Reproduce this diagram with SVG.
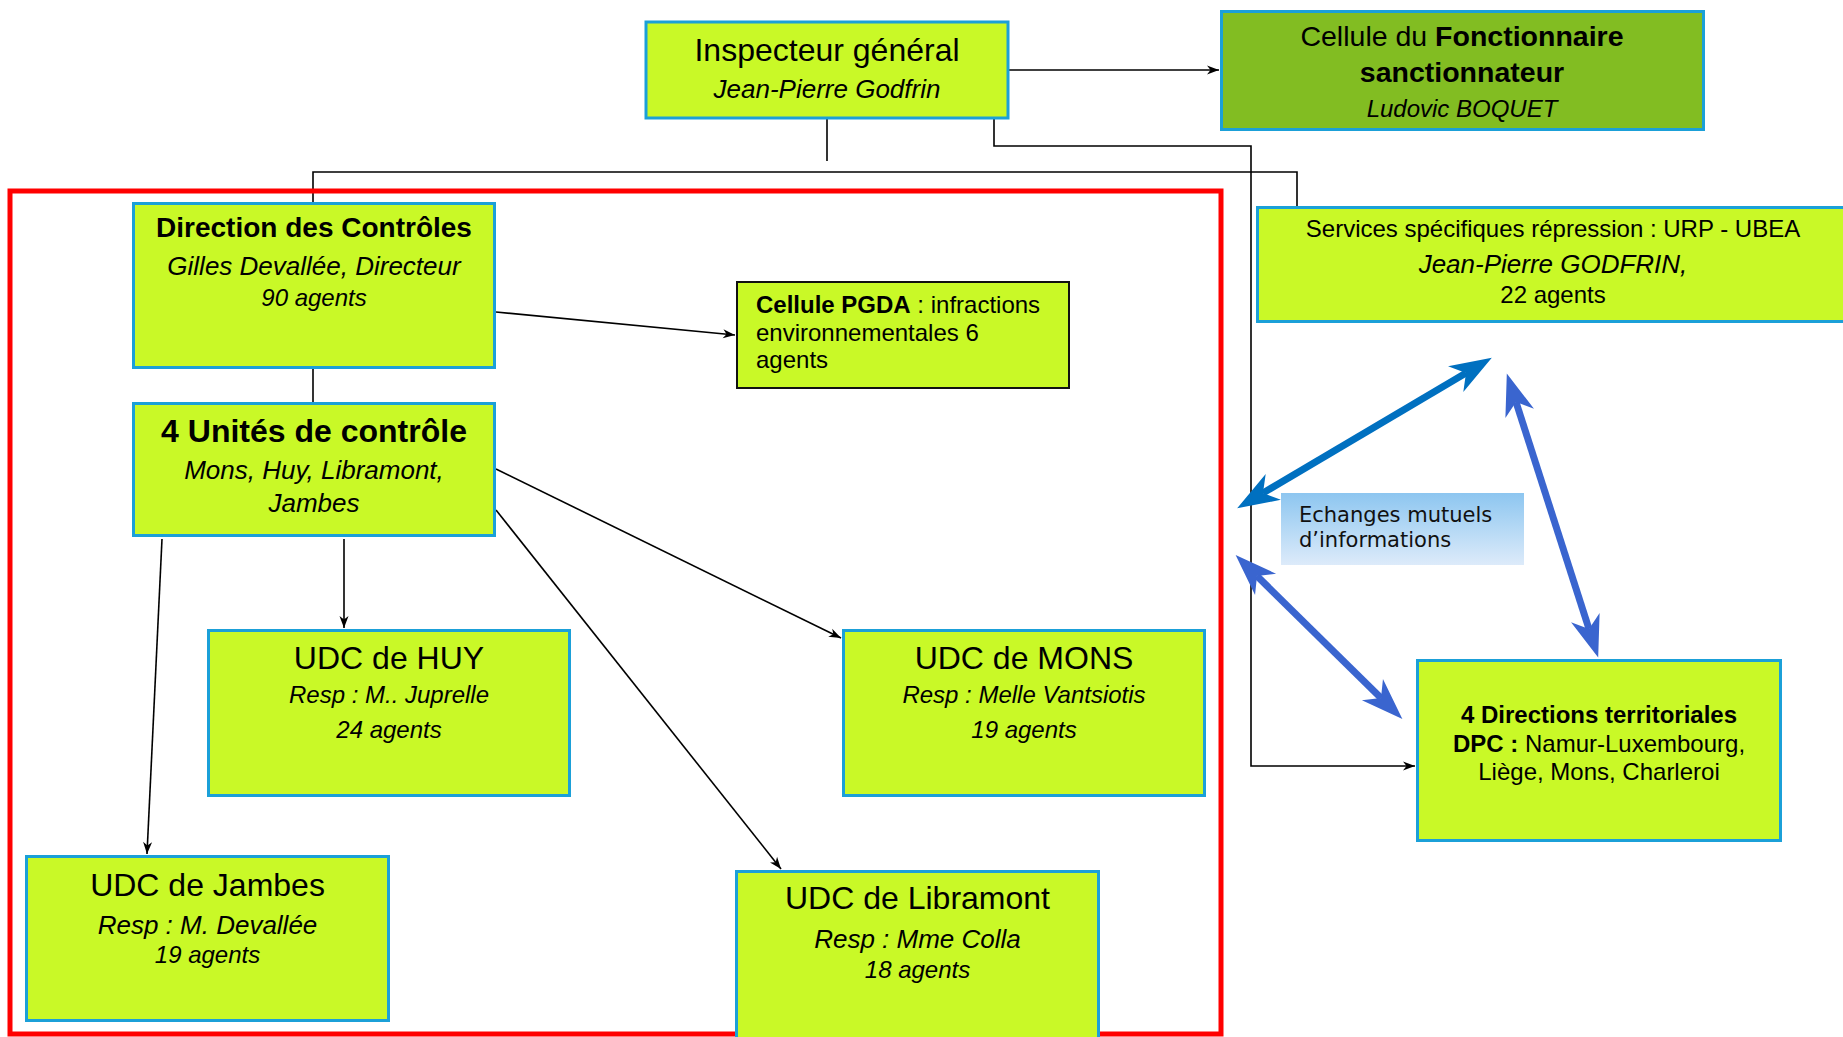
<svg xmlns="http://www.w3.org/2000/svg" width="1843" height="1037" viewBox="0 0 1843 1037">
<defs>
<style>
.box{fill:#C9F927;stroke:#1BA0D8;stroke-width:3}
.dark{fill:#82BD22;stroke:#1BA0D8;stroke-width:3}
.pgda{fill:#C9F927;stroke:#111;stroke-width:2}
.t{font-family:"Liberation Sans",Arial,sans-serif;fill:#000}
.c{text-anchor:middle}
.b{font-weight:bold}
.i{font-style:italic}
.ln{fill:none;stroke:#000;stroke-width:1.6}
.ar{marker-end:url(#ah)}
.red{fill:none;stroke:#FF0000;stroke-width:5}
.ba{fill:none;stroke:#0070C0;stroke-width:7;marker-start:url(#bh1);marker-end:url(#bh1)}
.bb{fill:none;stroke:#3A65CF;stroke-width:7;marker-start:url(#bh2);marker-end:url(#bh2)}
.ech{font-family:"DejaVu Sans",Verdana,sans-serif;font-size:21px;fill:#111}
</style>
<marker id="ah" markerUnits="userSpaceOnUse" viewBox="-13 -6 14 12" markerWidth="14" markerHeight="12" refX="0" refY="0" orient="auto">
<path d="M0,0 L-12,-4.5 L-8.5,0 L-12,4.5 Z" fill="#000"/>
</marker>
<marker id="bh1" markerUnits="userSpaceOnUse" viewBox="-15 -18 48 36" markerWidth="48" markerHeight="36" refX="0" refY="0" orient="auto-start-reverse">
<path d="M30,0 L-12,-15 L0,0 L-12,15 Z" fill="#0070C0"/>
</marker>
<marker id="bh2" markerUnits="userSpaceOnUse" viewBox="-15 -18 48 36" markerWidth="48" markerHeight="36" refX="0" refY="0" orient="auto-start-reverse">
<path d="M30,0 L-12,-15 L0,0 L-12,15 Z" fill="#3A65CF"/>
</marker>
<linearGradient id="gEch" x1="0" y1="0" x2="0" y2="1">
<stop offset="0" stop-color="#8DC6F0"/>
<stop offset="1" stop-color="#DDEBFA"/>
</linearGradient>
</defs>
<rect x="0" y="0" width="1843" height="1037" fill="#FFFFFF"/>

<g id="connectors">
<path class="ln ar" d="M1009,70 H1219"/>
<path class="ln" d="M827,119 V161"/>
<path class="ln" d="M313,203 V172 H1297 V206"/>
<path class="ln ar" d="M994,119 V146 H1251 V766 H1415"/>
<path class="ln ar" d="M496,312 L735,335"/>
<path class="ln" d="M313,369 V403"/>
<path class="ln ar" d="M344,539 V628"/>
<path class="ln ar" d="M162,539 L147,854"/>
<path class="ln ar" d="M496,469 L841,638"/>
<path class="ln ar" d="M496,510 L781,869"/>
<path class="ba" d="M1263,493 L1466,373"/>
<path class="bb" d="M1516,402 L1589,629"/>
<path class="bb" d="M1257,576 L1381,698"/>
</g>

<g id="frame">
<rect class="red" x="10" y="191" width="1211" height="843"/>
</g>

<g id="inspecteur">
<rect class="box" x="646" y="22" width="362" height="96"/>
<text class="t c" x="827" y="61" font-size="32">Inspecteur général</text>
<text class="t c i" x="827" y="98" font-size="26">Jean-Pierre Godfrin</text>
</g>

<g id="cellule-fonctionnaire">
<rect class="dark" x="1221.5" y="11.5" width="482" height="118"/>
<text class="t c" x="1462" y="46" font-size="28.5">Cellule du <tspan class="b">Fonctionnaire</tspan></text>
<text class="t c b" x="1462" y="82" font-size="28.5">sanctionnateur</text>
<text class="t c i" x="1462" y="117" font-size="24">Ludovic BOQUET</text>
</g>

<g id="services">
<rect class="box" x="1257.5" y="207.5" width="600" height="114"/>
<text class="t c" x="1553" y="237" font-size="24">Services spécifiques répression : URP - UBEA</text>
<text class="t c i" x="1553" y="273" font-size="26">Jean-Pierre GODFRIN,</text>
<text class="t c" x="1553" y="303" font-size="24">22 agents</text>
</g>

<g id="direction-controles">
<rect class="box" x="133.5" y="203.5" width="361" height="164"/>
<text class="t c b" x="314" y="237" font-size="28">Direction des Contrôles</text>
<text class="t c i" x="314" y="275" font-size="26">Gilles Devallée, Directeur</text>
<text class="t c i" x="314" y="306" font-size="24">90 agents</text>
</g>

<g id="cellule-pgda">
<rect class="pgda" x="737" y="282" width="332" height="106"/>
<text class="t" x="756" y="313" font-size="24"><tspan class="b">Cellule PGDA</tspan> : infractions</text>
<text class="t" x="756" y="341" font-size="24">environnementales 6</text>
<text class="t" x="756" y="368" font-size="24">agents</text>
</g>

<g id="unites-controle">
<rect class="box" x="133.5" y="403.5" width="361" height="132"/>
<text class="t c b" x="314" y="442" font-size="32">4 Unités de contrôle</text>
<text class="t c i" x="314" y="479" font-size="26">Mons, Huy, Libramont,</text>
<text class="t c i" x="314" y="512" font-size="26">Jambes</text>
</g>

<g id="udc-huy">
<rect class="box" x="208.5" y="630.5" width="361" height="165"/>
<text class="t c" x="389" y="669" font-size="32">UDC de HUY</text>
<text class="t c i" x="389" y="703" font-size="24">Resp : M.. Juprelle</text>
<text class="t c i" x="389" y="738" font-size="24">24 agents</text>
</g>

<g id="udc-mons">
<rect class="box" x="843.5" y="630.5" width="361" height="165"/>
<text class="t c" x="1024" y="669" font-size="32">UDC de MONS</text>
<text class="t c i" x="1024" y="703" font-size="24">Resp : Melle Vantsiotis</text>
<text class="t c i" x="1024" y="738" font-size="24">19 agents</text>
</g>

<g id="udc-jambes">
<rect class="box" x="26.5" y="856.5" width="362" height="164"/>
<text class="t c" x="207.5" y="896" font-size="32">UDC de Jambes</text>
<text class="t c i" x="207.5" y="934" font-size="26">Resp : M. Devallée</text>
<text class="t c i" x="207.5" y="963" font-size="24">19 agents</text>
</g>

<g id="udc-libramont">
<rect class="box" x="736.5" y="871.5" width="362" height="180"/>
<text class="t c" x="917.5" y="909" font-size="32">UDC de Libramont</text>
<text class="t c i" x="917.5" y="948" font-size="26">Resp : Mme Colla</text>
<text class="t c i" x="917.5" y="978" font-size="24">18 agents</text>
</g>

<g id="directions-territoriales">
<rect class="box" x="1417.5" y="660.5" width="363" height="180"/>
<text class="t c b" x="1599" y="723" font-size="24">4 Directions territoriales</text>
<text class="t c" x="1599" y="752" font-size="24"><tspan class="b">DPC : </tspan>Namur-Luxembourg,</text>
<text class="t c" x="1599" y="780" font-size="24">Liège, Mons, Charleroi</text>
</g>

<g id="echanges">
<rect x="1281" y="493" width="243" height="72" fill="url(#gEch)"/>
<text class="ech" x="1299" y="522">Echanges mutuels</text>
<text class="ech" x="1299" y="547">d’informations</text>
</g>
</svg>
